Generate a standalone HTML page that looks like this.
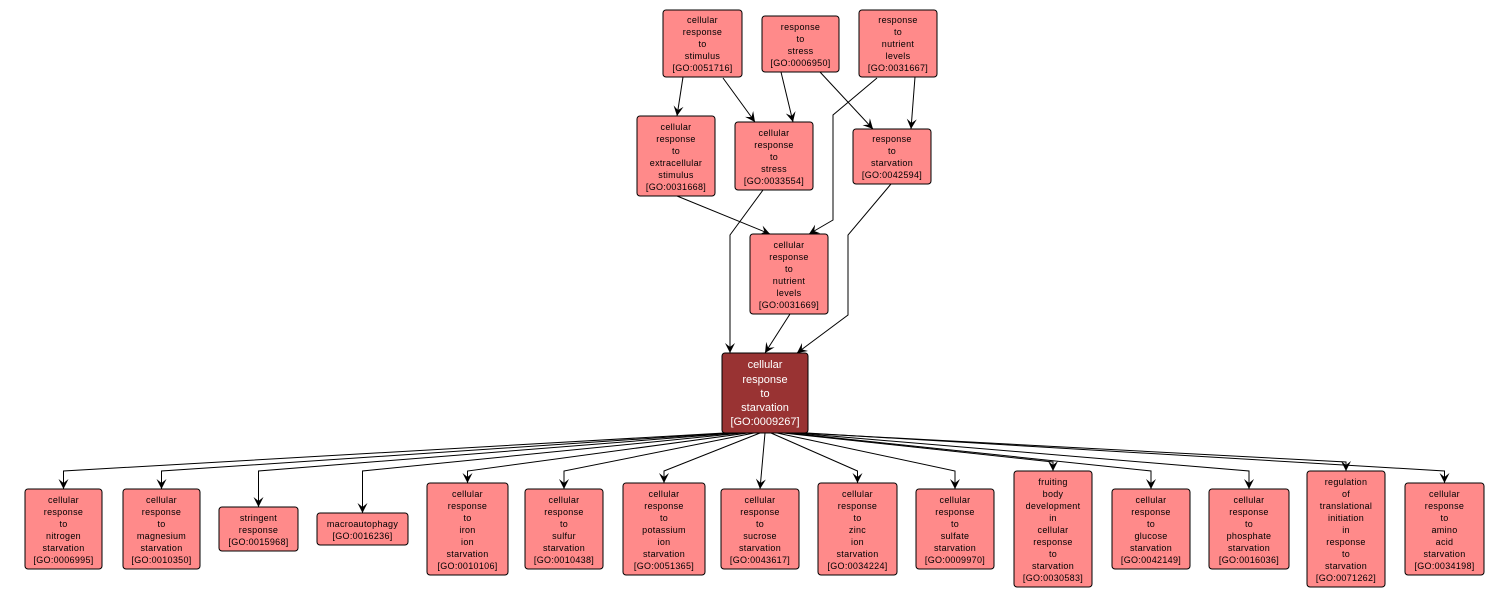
<!DOCTYPE html>
<html><head><meta charset="utf-8"><style>
html,body{margin:0;padding:0;background:#fff;}
svg{display:block;font-family:"Liberation Sans",sans-serif;}
.n rect{fill:#ff8a8a;stroke:#000;stroke-width:1;}
.n text{font-size:9px;fill:#000;text-anchor:middle;letter-spacing:0.3px;}
.e{fill:none;stroke:#000;stroke-width:1;marker-end:url(#a);}
</style></head><body>
<svg width="1509" height="598" viewBox="0 0 1509 598">
<defs><marker id="a" markerWidth="10" markerHeight="10" refX="10" refY="5" orient="auto" viewBox="0 0 10 10" markerUnits="userSpaceOnUse" overflow="visible"><path d="M0,0 L10,5 L0,10 L4,5 Z" fill="#000"/></marker></defs>
<g>
<polyline class="e" points="683,77 677,116"/>
<polyline class="e" points="723,78 755,122"/>
<polyline class="e" points="781,72 793,122"/>
<polyline class="e" points="820,72 873,129"/>
<polyline class="e" points="915,77 911,129"/>
<polyline class="e" points="877,78 833,115 833,220 809,234"/>
<polyline class="e" points="677,196 770,234"/>
<polyline class="e" points="763,190 730,235 730,353"/>
<polyline class="e" points="790,314 765,353"/>
<polyline class="e" points="891,184 848,235 848,315 797,353"/>
<polyline class="e" points="724,433 63.5,471 63.5,489"/>
<polyline class="e" points="730,433 161.5,471 161.5,489"/>
<polyline class="e" points="736,433 258.5,471 258.5,507"/>
<polyline class="e" points="742,433 362.5,471 362.5,513"/>
<polyline class="e" points="748,433 467.5,471 467.5,483"/>
<polyline class="e" points="754,433 564,471 564,489"/>
<polyline class="e" points="760,433 664,471 664,483"/>
<polyline class="e" points="765,433 760,489"/>
<polyline class="e" points="771,433 857.5,471 857.5,483"/>
<polyline class="e" points="777,433 955,471 955,489"/>
<polyline class="e" points="783,433 1053,462 1053,471"/>
<polyline class="e" points="789,433 1151,471 1151,489"/>
<polyline class="e" points="795,433 1249,471 1249,489"/>
<polyline class="e" points="801,433 1346,462 1346,471"/>
<polyline class="e" points="807,433 1444.5,471 1444.5,483"/>
</g>
<g class="n"><rect x="663" y="10" width="79" height="67" rx="3"/><text x="702.5" y="23">cellular</text><text x="702.5" y="35">response</text><text x="702.5" y="47">to</text><text x="702.5" y="59">stimulus</text><text x="702.5" y="71">[GO:0051716]</text></g>
<g class="n"><rect x="762" y="16" width="77" height="56" rx="3"/><text x="800.5" y="30">response</text><text x="800.5" y="42">to</text><text x="800.5" y="54">stress</text><text x="800.5" y="66">[GO:0006950]</text></g>
<g class="n"><rect x="859" y="10" width="78" height="67" rx="3"/><text x="898" y="23">response</text><text x="898" y="35">to</text><text x="898" y="47">nutrient</text><text x="898" y="59">levels</text><text x="898" y="71">[GO:0031667]</text></g>
<g class="n"><rect x="637" y="116" width="78" height="80" rx="3"/><text x="676" y="130">cellular</text><text x="676" y="142">response</text><text x="676" y="154">to</text><text x="676" y="166">extracellular</text><text x="676" y="178">stimulus</text><text x="676" y="190">[GO:0031668]</text></g>
<g class="n"><rect x="735" y="122" width="78" height="68" rx="3"/><text x="774" y="136">cellular</text><text x="774" y="148">response</text><text x="774" y="160">to</text><text x="774" y="172">stress</text><text x="774" y="184">[GO:0033554]</text></g>
<g class="n"><rect x="853" y="129" width="78" height="55" rx="3"/><text x="892" y="142">response</text><text x="892" y="154">to</text><text x="892" y="166">starvation</text><text x="892" y="178">[GO:0042594]</text></g>
<g class="n"><rect x="750" y="234" width="78" height="80" rx="3"/><text x="789" y="248">cellular</text><text x="789" y="260">response</text><text x="789" y="272">to</text><text x="789" y="284">nutrient</text><text x="789" y="296">levels</text><text x="789" y="308">[GO:0031669]</text></g>
<g><rect x="722" y="353" width="86" height="80" rx="3" fill="#993333" stroke="#000"/>
<g font-size="11" fill="#fff" text-anchor="middle"><text x="765" y="368">cellular</text><text x="765" y="383">response</text><text x="765" y="397">to</text><text x="765" y="411">starvation</text><text x="765" y="425">[GO:0009267]</text></g></g>
<g class="n"><rect x="25" y="489" width="77" height="80" rx="3"/><text x="63.5" y="503">cellular</text><text x="63.5" y="515">response</text><text x="63.5" y="527">to</text><text x="63.5" y="539">nitrogen</text><text x="63.5" y="551">starvation</text><text x="63.5" y="563">[GO:0006995]</text></g>
<g class="n"><rect x="123" y="489" width="77" height="80" rx="3"/><text x="161.5" y="503">cellular</text><text x="161.5" y="515">response</text><text x="161.5" y="527">to</text><text x="161.5" y="539">magnesium</text><text x="161.5" y="551">starvation</text><text x="161.5" y="563">[GO:0010350]</text></g>
<g class="n"><rect x="219" y="507" width="79" height="44" rx="3"/><text x="258.5" y="521">stringent</text><text x="258.5" y="533">response</text><text x="258.5" y="545">[GO:0015968]</text></g>
<g class="n"><rect x="317" y="513" width="91" height="32" rx="3"/><text x="362.5" y="527">macroautophagy</text><text x="362.5" y="539">[GO:0016236]</text></g>
<g class="n"><rect x="427" y="483" width="81" height="92" rx="3"/><text x="467.5" y="497">cellular</text><text x="467.5" y="509">response</text><text x="467.5" y="521">to</text><text x="467.5" y="533">iron</text><text x="467.5" y="545">ion</text><text x="467.5" y="557">starvation</text><text x="467.5" y="569">[GO:0010106]</text></g>
<g class="n"><rect x="525" y="489" width="78" height="80" rx="3"/><text x="564" y="503">cellular</text><text x="564" y="515">response</text><text x="564" y="527">to</text><text x="564" y="539">sulfur</text><text x="564" y="551">starvation</text><text x="564" y="563">[GO:0010438]</text></g>
<g class="n"><rect x="623" y="483" width="82" height="92" rx="3"/><text x="664" y="497">cellular</text><text x="664" y="509">response</text><text x="664" y="521">to</text><text x="664" y="533">potassium</text><text x="664" y="545">ion</text><text x="664" y="557">starvation</text><text x="664" y="569">[GO:0051365]</text></g>
<g class="n"><rect x="721" y="489" width="78" height="80" rx="3"/><text x="760" y="503">cellular</text><text x="760" y="515">response</text><text x="760" y="527">to</text><text x="760" y="539">sucrose</text><text x="760" y="551">starvation</text><text x="760" y="563">[GO:0043617]</text></g>
<g class="n"><rect x="818" y="483" width="79" height="92" rx="3"/><text x="857.5" y="497">cellular</text><text x="857.5" y="509">response</text><text x="857.5" y="521">to</text><text x="857.5" y="533">zinc</text><text x="857.5" y="545">ion</text><text x="857.5" y="557">starvation</text><text x="857.5" y="569">[GO:0034224]</text></g>
<g class="n"><rect x="916" y="489" width="78" height="80" rx="3"/><text x="955" y="503">cellular</text><text x="955" y="515">response</text><text x="955" y="527">to</text><text x="955" y="539">sulfate</text><text x="955" y="551">starvation</text><text x="955" y="563">[GO:0009970]</text></g>
<g class="n"><rect x="1014" y="471" width="78" height="116" rx="3"/><text x="1053" y="485">fruiting</text><text x="1053" y="497">body</text><text x="1053" y="509">development</text><text x="1053" y="521">in</text><text x="1053" y="533">cellular</text><text x="1053" y="545">response</text><text x="1053" y="557">to</text><text x="1053" y="569">starvation</text><text x="1053" y="581">[GO:0030583]</text></g>
<g class="n"><rect x="1112" y="489" width="78" height="80" rx="3"/><text x="1151" y="503">cellular</text><text x="1151" y="515">response</text><text x="1151" y="527">to</text><text x="1151" y="539">glucose</text><text x="1151" y="551">starvation</text><text x="1151" y="563">[GO:0042149]</text></g>
<g class="n"><rect x="1209" y="489" width="80" height="80" rx="3"/><text x="1249" y="503">cellular</text><text x="1249" y="515">response</text><text x="1249" y="527">to</text><text x="1249" y="539">phosphate</text><text x="1249" y="551">starvation</text><text x="1249" y="563">[GO:0016036]</text></g>
<g class="n"><rect x="1307" y="471" width="78" height="116" rx="3"/><text x="1346" y="485">regulation</text><text x="1346" y="497">of</text><text x="1346" y="509">translational</text><text x="1346" y="521">initiation</text><text x="1346" y="533">in</text><text x="1346" y="545">response</text><text x="1346" y="557">to</text><text x="1346" y="569">starvation</text><text x="1346" y="581">[GO:0071262]</text></g>
<g class="n"><rect x="1405" y="483" width="79" height="92" rx="3"/><text x="1444.5" y="497">cellular</text><text x="1444.5" y="509">response</text><text x="1444.5" y="521">to</text><text x="1444.5" y="533">amino</text><text x="1444.5" y="545">acid</text><text x="1444.5" y="557">starvation</text><text x="1444.5" y="569">[GO:0034198]</text></g>
</svg>
</body></html>
